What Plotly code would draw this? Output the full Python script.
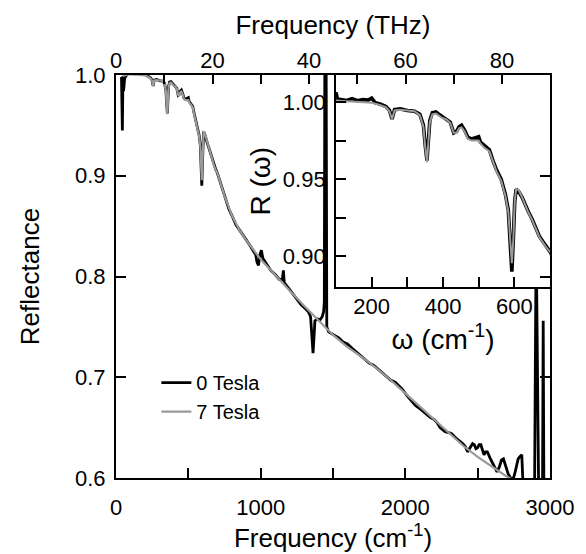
import plotly.graph_objects as go

CM_PER_THZ = 33.356

# ---- 0 Tesla (black) ----
w0 = [38, 44, 48, 52, 56, 60, 70, 100, 104, 115, 130, 145, 160, 175, 190, 200, 210, 225, 240, 250,
      257, 264, 280, 300, 320, 335, 345, 350, 355, 359, 363, 370, 380, 395, 410, 420, 430, 438, 445,
      452, 460, 470, 480, 490, 500, 505, 515, 530, 540, 550, 563, 575, 583, 588, 593, 597, 601, 605,
      612, 622, 632, 640, 650, 660, 670, 680, 690, 700, 720, 750, 780, 800, 830, 850, 870, 900, 930,
      950, 965, 975, 985, 995, 1005, 1015, 1040, 1070, 1100, 1130, 1150, 1157, 1163, 1190, 1220,
      1250, 1280, 1310, 1330, 1345, 1355, 1362, 1368, 1375, 1390, 1410, 1425, 1435, 1440, 1444,
      1452, 1457, 1470, 1481, 1510, 1540, 1570, 1600, 1630, 1660, 1690, 1720, 1750, 1780, 1810,
      1840, 1870, 1900, 1930, 1950, 1980, 2010, 2040, 2070, 2107, 2140, 2174, 2200, 2219, 2240,
      2260, 2275, 2300, 2320, 2354, 2380, 2398, 2415, 2432, 2443, 2454, 2465, 2477, 2488, 2499,
      2510, 2522, 2533, 2544, 2555, 2567, 2585, 2600, 2617, 2634, 2650, 2665, 2678, 2695, 2711,
      2728, 2745, 2756, 2767, 2780, 2790, 2805, 2812, 2830, 2860, 2893, 2902, 2908, 2922, 2948,
      2953, 2958, 3000]
r0 = [0.998, 0.945, 0.999, 0.984, 0.990, 0.997, 0.999, 1.006, 1.002, 1.0015, 1.001, 1.0022, 1.0008,
      1.0015, 1.0012, 1.0025, 0.9995, 0.9985, 0.997, 0.9945, 0.989, 0.995, 0.9955, 0.9945, 0.994,
      0.992, 0.985, 0.972, 0.962, 0.975, 0.988, 0.993, 0.9935, 0.991, 0.989, 0.987, 0.980, 0.981,
      0.984, 0.985, 0.982, 0.977, 0.976, 0.9765, 0.9775, 0.974, 0.972, 0.969, 0.962, 0.956, 0.950,
      0.940, 0.930, 0.910, 0.890, 0.910, 0.935, 0.9435, 0.942, 0.938, 0.932, 0.9285, 0.924, 0.918,
      0.913, 0.9095, 0.906, 0.903, 0.894, 0.880, 0.867, 0.861, 0.851, 0.847, 0.843, 0.837, 0.830,
      0.825, 0.822, 0.814, 0.811, 0.822, 0.826, 0.818, 0.812, 0.806, 0.802, 0.797, 0.797, 0.806,
      0.794, 0.789, 0.784, 0.778, 0.772, 0.768, 0.765, 0.760, 0.738, 0.724, 0.738, 0.756, 0.758,
      0.757, 0.760, 0.765, 0.775, 1.05, 1.05, 0.750, 0.745, 0.744, 0.741, 0.739, 0.735, 0.733,
      0.729, 0.725, 0.722, 0.717, 0.714, 0.712, 0.708, 0.705, 0.700, 0.697, 0.695, 0.692, 0.688,
      0.682, 0.677, 0.672, 0.668, 0.664, 0.660, 0.658, 0.655, 0.650, 0.648, 0.646, 0.645, 0.644,
      0.639, 0.636, 0.634, 0.631, 0.626, 0.629, 0.631, 0.634, 0.633, 0.629, 0.630, 0.633, 0.633,
      0.628, 0.623, 0.626, 0.626, 0.620, 0.616, 0.610, 0.606, 0.611, 0.618, 0.619, 0.612, 0.604,
      0.600, 0.599, 0.604, 0.6125, 0.619, 0.621, 0.623, 0.599, 0.585, 0.582, 0.580, 0.787, 0.787,
      0.580, 0.580, 0.756, 0.580, 0.580]

# ---- 7 Tesla (gray) ----
w7 = [45, 100, 130, 160, 200, 225, 240, 250, 257, 264, 280, 300, 320, 335, 345, 350, 355, 359, 363,
      370, 380, 395, 410, 420, 430, 438, 445, 452, 460, 470, 480, 490, 500, 505, 515, 530, 540, 550,
      563, 575, 583, 588, 593, 597, 601, 605, 612, 622, 632, 640, 650, 660, 670, 680, 690, 700, 750,
      800, 850, 900, 1000, 1100, 1200, 1300, 1400, 1500, 1600, 1700, 1800, 1900, 2000, 2100, 2200,
      2300, 2400, 2500, 2600, 2700, 2760, 2800, 2900, 3000]
r7 = [0.999, 1.001, 1.0005, 1.000, 0.9995, 0.998, 0.9965, 0.994, 0.989, 0.9945, 0.995, 0.9945, 0.994,
      0.9915, 0.984, 0.971, 0.961, 0.974, 0.987, 0.992, 0.9925, 0.990, 0.9885, 0.9865, 0.980, 0.980,
      0.983, 0.9835, 0.981, 0.976, 0.975, 0.975, 0.975, 0.973, 0.9705, 0.968, 0.961, 0.955, 0.949,
      0.939, 0.929, 0.910, 0.8955, 0.910, 0.935, 0.9435, 0.943, 0.938, 0.932, 0.928, 0.9235, 0.9175,
      0.9125, 0.909, 0.9055, 0.903, 0.880, 0.861, 0.847, 0.836, 0.817, 0.801, 0.786, 0.771, 0.757,
      0.742, 0.730, 0.720, 0.709, 0.697, 0.684, 0.671, 0.658, 0.645, 0.632, 0.621, 0.611, 0.6015,
      0.597, 0.594, 0.588, 0.584]

# ---- ticks ----
main_x_ticks = [0, 1000, 2000, 3000]
main_x_labels = ["0", "1000", "2000", "3000"]
main_x_minor = [500, 1500, 2500]
thz_ticks = [0, 20, 40, 60, 80]
thz_labels = ["0", "20", "40", "60", "80"]
thz_minor = [10, 30, 50, 70]
main_y_ticks = [0.6, 0.7, 0.8, 0.9, 1.0]
main_y_labels = ["0.6", "0.7", "0.8", "0.9", "1.0"]
inset_x_ticks = [200, 400, 600]
inset_x_labels = ["200", "400", "600"]
inset_x_minor = [300, 500]
inset_y_ticks = [0.90, 0.95, 1.00]
inset_y_labels = ["0.90", "0.95", "1.00"]
inset_y_minor = [0.925, 0.975]

FONT = "Liberation Sans, Arial, Helvetica, sans-serif"
BLACK = "#000000"
GRAY = "#9a9a9a"

fig = go.Figure()
# main plot
fig.add_trace(go.Scatter(x=w0, y=r0, mode="lines", name="0 Tesla",
                         line=dict(color=BLACK, width=2.8), xaxis="x", yaxis="y"))
fig.add_trace(go.Scatter(x=w7, y=r7, mode="lines", name="7 Tesla",
                         line=dict(color=GRAY, width=2.2), xaxis="x", yaxis="y"))
# invisible trace to carry the THz axis
fig.add_trace(go.Scatter(x=[w / CM_PER_THZ for w in w7], y=r7, mode="lines",
                         line=dict(width=0), opacity=0, showlegend=False, hoverinfo="skip",
                         xaxis="x2", yaxis="y"))
# inset
fig.add_trace(go.Scatter(x=w0, y=r0, mode="lines", showlegend=False,
                         line=dict(color=BLACK, width=3.6), xaxis="x3", yaxis="y3"))
fig.add_trace(go.Scatter(x=w7, y=r7, mode="lines", showlegend=False,
                         line=dict(color=GRAY, width=2.0), xaxis="x3", yaxis="y3"))

axis_common = dict(showline=True, linecolor=BLACK, linewidth=2, ticks="inside", tickwidth=2,
                   tickcolor=BLACK, showgrid=False, zeroline=False, ticklabeloverflow="allow",
                   tickfont=dict(family=FONT, size=22, color=BLACK))


def minor(vals, length):
    return dict(tickvals=vals, ticks="inside", ticklen=length, tickwidth=2,
                tickcolor=BLACK, showgrid=False)


fig.update_layout(
    width=586, height=554,
    margin=dict(l=116, r=24, t=75, b=73),
    paper_bgcolor="white", plot_bgcolor="rgba(0,0,0,0)",
    font=dict(family=FONT, color=BLACK),
    showlegend=True, hovermode=False,
    legend=dict(x=0.093, y=0.285, xanchor="left", yanchor="top", bgcolor="rgba(0,0,0,0)",
                font=dict(family=FONT, size=20, color=BLACK), tracegroupgap=0),
    xaxis=dict(axis_common, domain=[0, 1], range=[0, 3000], tickvals=main_x_ticks,
               ticktext=main_x_labels, ticklen=10, anchor="y", ticklabelstandoff=9,
               minor=minor(main_x_minor, 10),
               title=dict(text="Frequency (cm<sup>-1</sup>)", font=dict(size=26), standoff=3)),
    xaxis2=dict(axis_common, overlaying="x", side="top", anchor="y",
                range=[0, 3000 / CM_PER_THZ], tickvals=thz_ticks, ticktext=thz_labels, ticklen=9,
                ticklabelstandoff=-4, minor=minor(thz_minor, 9),
                title=dict(text="Frequency (THz)", font=dict(size=26), standoff=6)),
    yaxis=dict(axis_common, domain=[0, 1], range=[0.6, 1.0], tickvals=main_y_ticks,
               ticktext=main_y_labels, ticklen=10, mirror="ticks", anchor="x",
               ticklabelstandoff=4,
               title=dict(text="Reflectance", font=dict(size=26), standoff=28)),
    xaxis3=dict(axis_common, domain=[0.507, 1], range=[100, 700], anchor="y3",
                tickvals=inset_x_ticks, ticktext=inset_x_labels, ticklen=10, mirror=True,
                ticklabelstandoff=-2, minor=minor(inset_x_minor, 10),
                title=dict(text="ω (cm<sup>-1</sup>)", font=dict(size=28), standoff=4)),
    yaxis3=dict(axis_common, domain=[0.473, 1], range=[0.8798, 1.0175], anchor="x3",
                tickvals=inset_y_ticks, ticktext=inset_y_labels, ticklen=10, mirror=True,
                ticklabelstandoff=4, minor=minor(inset_y_minor, 10),
                title=dict(text="R (ω)", font=dict(size=28), standoff=4)),
)

fig.write_html("out.html", config={"displayModeBar": False},
               post_script="document.body.style.margin='0';")
